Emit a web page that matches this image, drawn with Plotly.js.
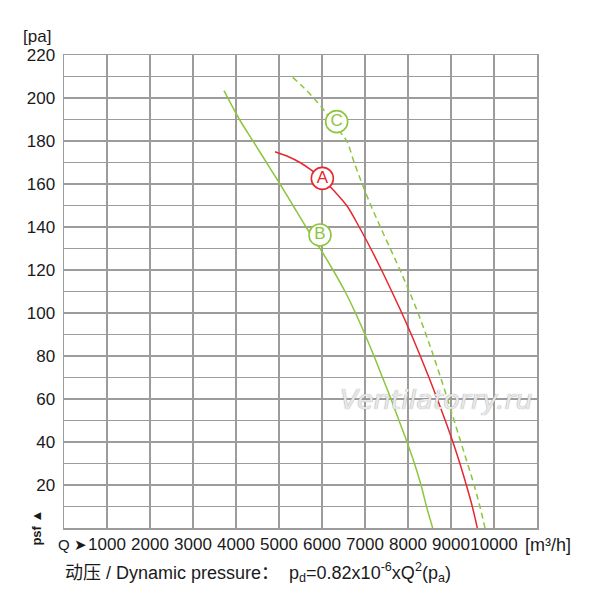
<!DOCTYPE html>
<html>
<head>
<meta charset="utf-8">
<script src="https://cdn.plot.ly/plotly-3.0.1.min.js"></script>
<style>
  html, body { margin: 0; padding: 0; background: #ffffff; }
  #chart { width: 600px; height: 600px; }
</style>
</head>
<body>
<div id="chart"></div>
<script>
// Fan curves (Q in m3/h, static pressure in Pa)
const curveAQ = [4907, 5209, 5488, 5744, 6000, 6263, 6574, 6865, 7133, 7384, 7623, 7856, 8077, 8286, 8488, 8681, 8867, 9044, 9207, 9356, 9495, 9612];
const curveAP = [175, 172.8, 170, 166.6, 162.6, 157.2, 150, 140, 130, 120, 110, 100, 90, 80, 70, 60, 50, 40, 30, 20, 10, 0];

const curveBQ = [3721, 4081, 4395, 4709, 5023, 5326, 5628, 5953, 6256, 6535, 6779, 7000, 7209, 7407, 7605, 7791, 7977, 8151, 8302, 8430, 8574];
const curveBP = [203.4, 190, 180, 170, 160, 150, 140, 130, 120, 110, 100, 90, 80, 70, 60, 50, 40, 30, 20, 10, 0];

const curveCQ = [5319, 5565, 5884, 6186, 6430, 6574, 6749, 6935, 7137, 7358, 7586, 7814, 8030, 8233, 8419, 8593, 8758, 8919, 9072, 9228, 9384, 9537, 9672, 9791];
const curveCP = [209.6, 205, 198.3, 190.7, 184, 180, 170, 160, 150, 140, 130, 120, 110, 100, 90, 80, 70, 60, 50, 40, 30, 20, 10, 0];

// circled curve names
const tagQ = [6008, 5953, 6341];
const tagP = [162.6, 136.3, 189];
const tagText = ["A", "B", "C"];

const xTickVals = [1000, 2000, 3000, 4000, 5000, 6000, 7000, 8000, 9000, 10000];
const yTickVals = [20, 40, 60, 80, 100, 120, 140, 160, 180, 200, 220];

const RED = "#e8262e";
const GREEN = "#8cc63e";
const GRID = "#9c9c9c";
const INK = "#1a1a1a";
const FONT = "Liberation Sans, Arial, Noto Sans CJK SC, sans-serif";

const traces = [
  {
    x: curveAQ, y: curveAP, mode: "lines",
    line: { color: RED, width: 1.5, shape: "spline" },
  },
  {
    x: curveBQ, y: curveBP, mode: "lines",
    line: { color: GREEN, width: 1.5, shape: "spline" },
  },
  {
    x: curveCQ, y: curveCP, mode: "lines",
    line: { color: GREEN, width: 1.5, shape: "spline", dash: "6px,4px" },
  },
  {
    x: tagQ, y: tagP, mode: "markers+text",
    text: tagText,
    textposition: "middle center",
    textfont: { family: FONT, size: 17, color: [RED, GREEN, GREEN] },
    marker: {
      size: 22, color: "#ffffff",
      line: { width: 1.6, color: [RED, GREEN, GREEN] },
    },
  },
];

const layout = {
  width: 600,
  height: 600,
  margin: { l: 64, r: 63, t: 55, b: 72 },
  paper_bgcolor: "#ffffff",
  plot_bgcolor: "#ffffff",
  font: { family: FONT, color: INK },
  showlegend: false,
  xaxis: {
    range: [0, 11000],
    tickmode: "array",
    tickvals: xTickVals,
    ticktext: xTickVals.map(String),
    tickangle: 0,
    tickfont: { size: 17, color: INK },
    ticks: "",
    ticklabelstandoff: 0,
    showgrid: true,
    gridcolor: GRID,
    gridwidth: 1.5,
    showline: true,
    linecolor: GRID,
    linewidth: 1.5,
    mirror: true,
    zeroline: false,
    fixedrange: true,
  },
  yaxis: {
    range: [0, 220],
    tickmode: "array",
    tickvals: yTickVals,
    ticktext: yTickVals.map(String),
    tickfont: { size: 17, color: INK },
    ticks: "",
    ticklabelstandoff: 4,
    showgrid: true,
    gridcolor: GRID,
    gridwidth: 1.5,
    minor: { tickmode: "linear", tick0: 0, dtick: 10, showgrid: true, gridcolor: GRID, gridwidth: 1.5 },
    showline: true,
    linecolor: GRID,
    linewidth: 1.5,
    mirror: true,
    zeroline: false,
    fixedrange: true,
  },
  annotations: [
    {
      text: "[pa]", xref: "paper", yref: "paper", x: -0.09, y: 1.04,
      xanchor: "left", yanchor: "middle", showarrow: false,
      font: { size: 17, color: INK },
    },
    {
      text: "Q ➤", xref: "paper", yref: "paper", x: -0.017, y: -0.034,
      xanchor: "left", yanchor: "middle", showarrow: false,
      font: { size: 15, color: INK },
    },
    {
      text: "[m³/h]", xref: "paper", yref: "paper", x: 0.97, y: -0.036,
      xanchor: "left", yanchor: "middle", showarrow: false,
      font: { size: 18, color: INK },
    },
    {
      text: "<b>psf ▲</b>", xref: "paper", yref: "paper", x: -0.06, y: 0.0,
      xanchor: "center", yanchor: "middle", textangle: -90, showarrow: false,
      font: { size: 13, color: INK },
    },
    {
      text: "动压 / Dynamic pressure：  p<sub>d</sub>=0.82x10<sup>-6</sup>xQ<sup>2</sup>(p<sub>a</sub>)",
      xref: "paper", yref: "paper", x: -0.003, y: -0.095,
      xanchor: "left", yanchor: "middle", showarrow: false,
      font: { size: 18, color: INK },
    },
    {
      text: "<i>Ventilatorry.ru</i>", xref: "paper", yref: "paper", x: 0.995, y: 0.271,
      xanchor: "right", yanchor: "middle", showarrow: false,
      font: { family: "DejaVu Sans, sans-serif", size: 27, color: "rgba(232,232,232,1)",
              shadow: "0px 0px 1px rgba(120,120,120,0.9)" },
    },
  ],
};

Plotly.newPlot("chart", traces, layout, { staticPlot: true, displayModeBar: false });
</script>
</body>
</html>
